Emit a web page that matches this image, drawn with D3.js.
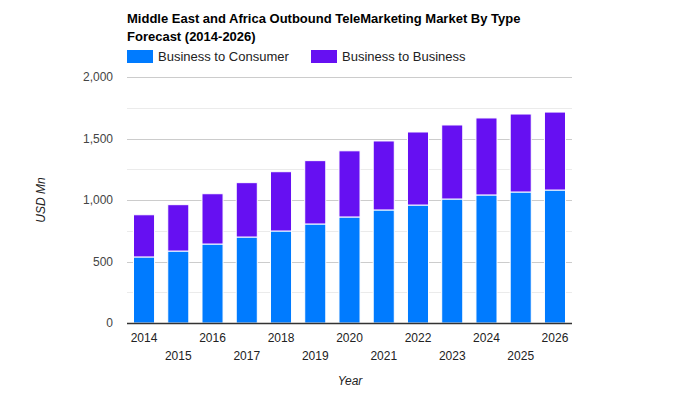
<!DOCTYPE html>
<html><head><meta charset="utf-8">
<script src="https://cdn.jsdelivr.net/npm/d3@7"></script>
<style>body{margin:0;background:#fff;} svg{font-family:Arial,"Liberation Sans",sans-serif;}</style>
</head><body>
<svg id="c" width="700" height="400"></svg>
<script>
const years = ["2014","2015","2016","2017","2018","2019","2020","2021","2022","2023","2024","2025","2026"];
const b2c = [537,585,642,699,748,805,862,919,959,1008,1041,1065,1081];
const b2b = [343,377,409,442,482,515,538,561,594,602,626,634,634];
const seriesNames = ["Business to Consumer","Business to Business"];
const colors = ["#007bff","#6610f2"];
const yTicks = [0,500,1000,1500,2000];
const yMinor = [250,750,1250,1750];

const svg = d3.select("#c");
const m = {l:127, r:572, t:77, b:323};
const x = d3.scaleBand().domain(years).range([m.l, m.r]).paddingInner(0.385).paddingOuter(0.19);
const y = d3.scaleLinear().domain([0,2000]).range([m.b, m.t]);

// gridlines
svg.append("g").selectAll("line.minor").data(yMinor).join("line")
  .attr("x1",m.l).attr("x2",m.r).attr("y1",d=>Math.round(y(d))+0.5).attr("y2",d=>Math.round(y(d))+0.5)
  .attr("stroke","#ebebeb");
svg.append("g").selectAll("line.major").data(yTicks.slice(1)).join("line")
  .attr("x1",m.l).attr("x2",m.r).attr("y1",d=>Math.round(y(d))+0.5).attr("y2",d=>Math.round(y(d))+0.5)
  .attr("stroke","#cccccc");

// stacked data
const rows = years.map((yr,i)=>({year:yr, b2c:b2c[i], b2b:b2b[i]}));
const stack = d3.stack().keys(["b2c","b2b"])(rows);
svg.append("g").selectAll("g").data(stack).join("g")
  .attr("fill",(d,i)=>colors[i])
  .selectAll("rect").data(d=>d).join("rect")
  .attr("x",d=>x(d.data.year)).attr("width",x.bandwidth())
  .attr("y",d=>y(d[1])).attr("height",d=>y(d[0])-y(d[1]))
  .attr("stroke","#fff").attr("stroke-width",1);

// baseline
svg.append("line").attr("x1",m.l).attr("x2",m.r).attr("y1",y(0)+0.5).attr("y2",y(0)+0.5)
  .attr("stroke","#333").attr("stroke-width",1.5);

// y tick labels
svg.append("g").selectAll("text").data(yTicks).join("text")
  .attr("x",113).attr("y",d=>y(d)+4).attr("text-anchor","end")
  .attr("font-size",12).attr("fill","#444").text(d=>d3.format(",")(d));

// x tick labels
svg.append("g").selectAll("text").data(years).join("text")
  .attr("x",d=>x(d)+x.bandwidth()/2).attr("y",(d,i)=> i%2===0 ? 342 : 360)
  .attr("text-anchor","middle").attr("font-size",12).attr("fill","#222").text(d=>d);

// axis titles
svg.append("text").attr("transform","translate(45,200) rotate(-90)").attr("text-anchor","middle")
  .attr("font-size",12).attr("font-style","italic").attr("fill","#222").text("USD Mn");
svg.append("text").attr("x",350).attr("y",385).attr("text-anchor","middle")
  .attr("font-size",12).attr("font-style","italic").attr("fill","#222").text("Year");

// title
svg.append("text").attr("x",127).attr("y",23).attr("font-size",13).attr("font-weight","bold").attr("fill","#000")
  .text("Middle East and Africa Outbound TeleMarketing Market By Type");
svg.append("text").attr("x",127).attr("y",41).attr("font-size",13).attr("font-weight","bold").attr("fill","#000")
  .text("Forecast (2014-2026)");

// legend
const lx = [127, 311];
const lg = svg.append("g").selectAll("g").data(seriesNames).join("g")
  .attr("transform",(d,i)=>`translate(${lx[i]},50)`);
lg.append("rect").attr("width",26).attr("height",13).attr("fill",(d,i)=>colors[i]);
lg.append("text").attr("x",31).attr("y",11).attr("font-size",13).attr("fill","#222").text(d=>d);
</script>
</body></html>
